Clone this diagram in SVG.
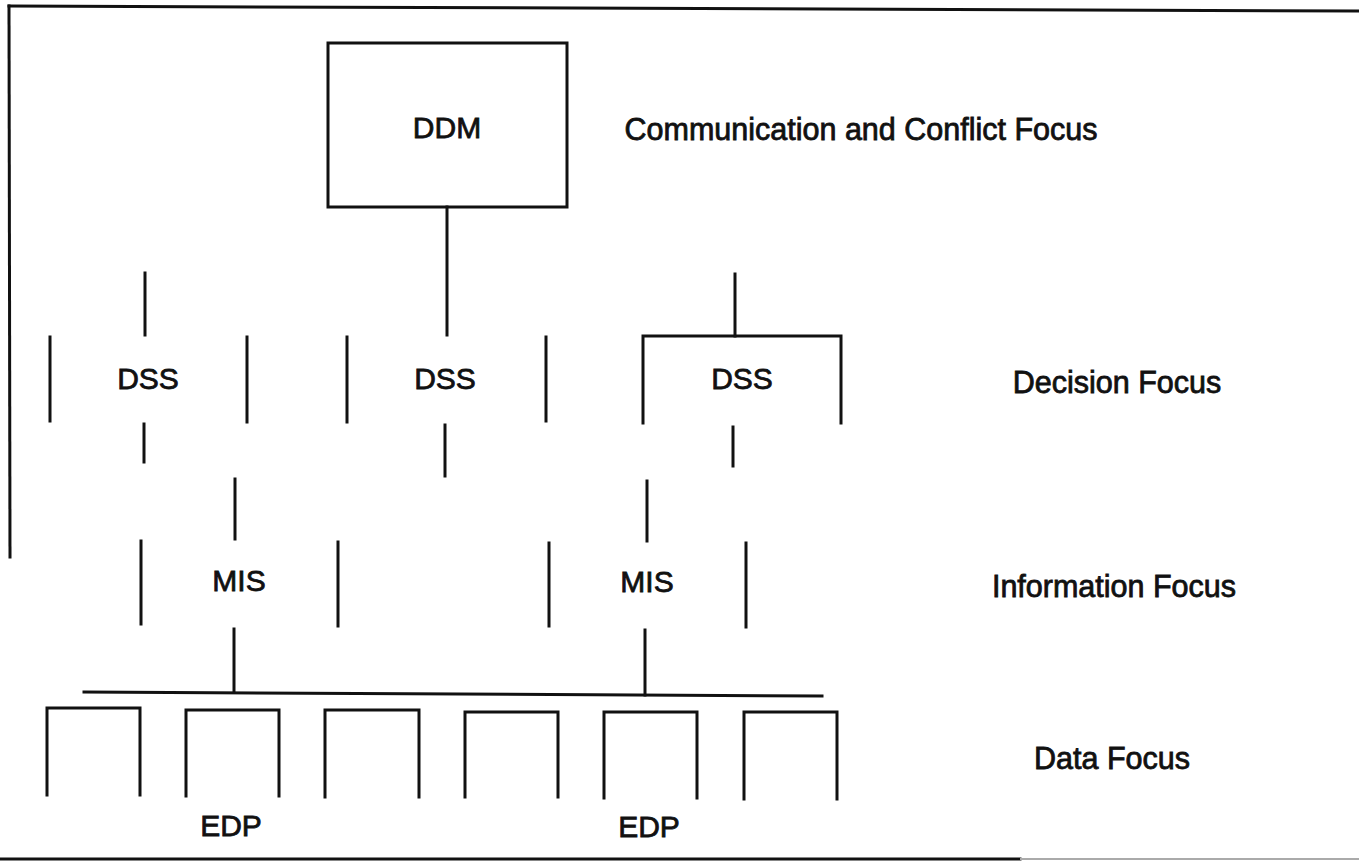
<svg xmlns="http://www.w3.org/2000/svg" width="1359" height="863" viewBox="0 0 1359 863">
<style>
.ln{stroke:#111;stroke-width:3;fill:none;stroke-linecap:square}
.bx{stroke:#111;stroke-width:3;fill:none}
text{font-family:"Liberation Sans",Arial,sans-serif;fill:#111;stroke:#111;stroke-width:0.8}
.nd{font-size:30px;text-anchor:middle}
.lv{font-size:30.5px;text-anchor:middle}
</style>
<rect width="1359" height="863" fill="#fff"/>
<g id="frame">
<path class="ln" d="M9,6 L1359,11"/>
<path class="ln" d="M9,6 L10,557"/>
<path class="ln" d="M0,859 L1020,859"/>
<path d="M1020,859 L1359,859" stroke="#aaa" stroke-width="2"/>
</g>
<g id="ddm">
<rect class="bx" x="328" y="43" width="239" height="164"/>
<text class="nd" x="447" y="138">DDM</text>
</g>
<g id="dss1">
<path class="ln" d="M50,337 V421 M247,337 V422"/>
<text class="nd" x="148" y="389">DSS</text>
</g>
<g id="dss2">
<path class="ln" d="M347,337 V422 M546,337 V421"/>
<text class="nd" x="445" y="389">DSS</text>
</g>
<g id="dss3">
<path class="ln" d="M643,423 V336 H841 V423"/>
<text class="nd" x="742" y="389">DSS</text>
</g>
<g id="mis1">
<path class="ln" d="M141,541 V624 M338,542 V626"/>
<text class="nd" x="239" y="591">MIS</text>
</g>
<g id="mis2">
<path class="ln" d="M549,543 V626 M746,543 V627"/>
<text class="nd" x="647" y="592">MIS</text>
</g>
<g id="edp">
<path class="ln" d="M47,795 V708 H140 V795"/>
<path class="ln" d="M186,796 V710 H279 V796"/>
<path class="ln" d="M325,797 V710 H419 V797"/>
<path class="ln" d="M465,797 V712 H558 V797"/>
<path class="ln" d="M604,798 V712 H697 V798"/>
<path class="ln" d="M744,799 V712 H837 V799"/>
<text class="nd" x="231" y="836">EDP</text>
<text class="nd" x="649" y="837">EDP</text>
</g>
<g id="connectors">
<path class="ln" d="M447,207 V335"/>
<path class="ln" d="M145,273 V335"/>
<path class="ln" d="M735,274 V336"/>
<path class="ln" d="M144,424 V462"/>
<path class="ln" d="M445,425 V476"/>
<path class="ln" d="M733,427 V466"/>
<path class="ln" d="M235,479 V539"/>
<path class="ln" d="M647,481 V541"/>
<path class="ln" d="M234,629 V692"/>
<path class="ln" d="M645,630 V695"/>
<path class="ln" d="M84,692 L822,696"/>
</g>
<g id="levels">
<text class="lv" x="861" y="140">Communication and Conflict Focus</text>
<text class="lv" x="1117" y="393">Decision Focus</text>
<text class="lv" x="1114" y="597">Information Focus</text>
<text class="lv" x="1112" y="769">Data Focus</text>
</g>
</svg>
